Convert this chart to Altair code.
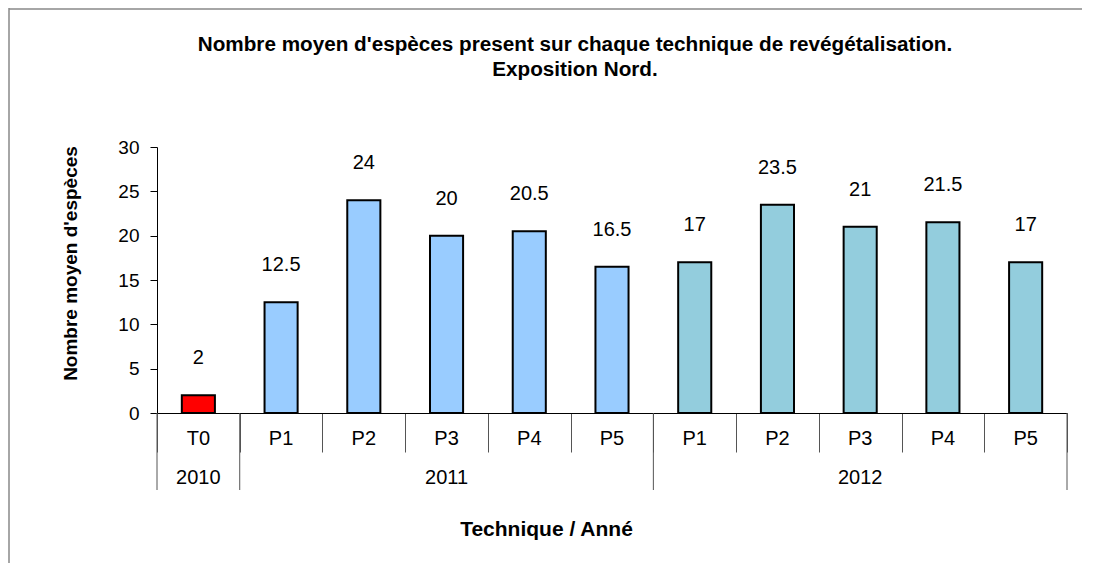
import altair as alt
import pandas as pd

categories = ["T0", "P1", "P2", "P3", "P4", "P5", "P1", "P2", "P3", "P4", "P5"]
years = ["2010", "2011", "2011", "2011", "2011", "2011", "2012", "2012", "2012", "2012", "2012"]
values = [2, 12.5, 24, 20, 20.5, 16.5, 17, 23.5, 21, 21.5, 17]
colors = ["#FF0000"] + ["#99CCFF"] * 5 + ["#93CDDD"] * 5

year_labels = ["2010", "2011", "2012"]
year_start = [0, 1, 6]
year_end = [1, 6, 11]

title_lines = ["Nombre moyen d'espèces present sur chaque technique de revégétalisation.",
               "Exposition Nord."]

df = pd.DataFrame({
    "idx": list(range(len(categories))),
    "cat": categories,
    "year": years,
    "value": values,
    "color": colors,
})
df["x0"] = df["idx"] + 0.3
df["x1"] = df["idx"] + 0.7
df["xc"] = df["idx"] + 0.5
df["label"] = [("%g" % v) for v in values]

ydf = pd.DataFrame({"year": year_labels, "s": year_start, "e": year_end})
ydf["c"] = (ydf["s"] + ydf["e"]) / 2
bdf = pd.DataFrame({"b": sorted(set(year_start + year_end))})
tdf = pd.DataFrame({"t": title_lines, "py": [-102, -77]})

FONT = "Liberation Sans"
LFS = 20
N = len(categories)
H = 266
xscale = alt.Scale(domain=[0, N], nice=False, zero=False)
yscale = alt.Scale(domain=[0, 30], nice=False)

base = alt.Chart(df)

bars = base.mark_bar(stroke="black", strokeWidth=2).encode(
    x=alt.X("x0:Q", scale=xscale,
            axis=alt.Axis(values=list(range(N + 1)), labels=False, tickSize=39,
                          tickColor="#555555", domainColor="black", grid=False,
                          title="Technique / Anné", titleX=389, titleY=116,
                          titleBaseline="middle", titleAlign="center",
                          titleFont=FONT, titleFontSize=21, titleFontWeight="bold",
                          titleColor="black")),
    x2="x1:Q",
    y=alt.Y("value:Q", scale=yscale,
            axis=alt.Axis(values=[0, 5, 10, 15, 20, 25, 30], tickSize=7, grid=False,
                          domainColor="black", tickColor="black",
                          labelFont=FONT, labelFontSize=19, labelColor="black",
                          labelPadding=11,
                          title="Nombre moyen d'espèces", titleX=-87, titleY=116,
                          titleAngle=270, titleBaseline="middle", titleAlign="center",
                          titleFont=FONT, titleFontSize=19, titleFontWeight="bold",
                          titleColor="black")),
    y2=alt.datum(0),
    color=alt.Color("color:N", scale=None),
)

vlabels = base.mark_text(font=FONT, fontSize=LFS, baseline="middle", dy=-37, color="black").encode(
    x=alt.X("xc:Q", scale=xscale),
    y=alt.Y("value:Q", scale=yscale),
    text="label:N",
)

clabels = base.mark_text(font=FONT, fontSize=LFS, baseline="middle", color="black").encode(
    x=alt.X("xc:Q", scale=xscale),
    y=alt.value(H + 26),
    text="cat:N",
)

ylabels = alt.Chart(ydf).mark_text(font=FONT, fontSize=LFS, baseline="middle", color="black").encode(
    x=alt.X("c:Q", scale=xscale),
    y=alt.value(H + 65),
    text="year:N",
)

bounds = alt.Chart(bdf).mark_rule(color="#555555", strokeWidth=1).encode(
    x=alt.X("b:Q", scale=xscale),
    y=alt.value(H),
    y2=alt.value(H + 77),
)

titles = alt.Chart(tdf).mark_text(font=FONT, fontSize=20.7, fontWeight="bold",
                                  baseline="middle", align="center", color="black").encode(
    x=alt.value(418),
    y=alt.Y("py:Q", scale=None),
    text="t:N",
)

frame_left = alt.Chart(bdf.head(1)).mark_rule(color="#888888", strokeWidth=1.5).encode(
    x=alt.value(-148), y=alt.value(-139), y2=alt.value(430),
)
frame_top = alt.Chart(bdf.head(1)).mark_rule(color="#888888", strokeWidth=1.5).encode(
    x=alt.value(-148), x2=alt.value(925), y=alt.value(-138),
)

chart = alt.layer(frame_left, frame_top, bars, vlabels, clabels, ylabels, bounds, titles).properties(
    width=910,
    height=H,
    autosize=alt.AutoSizeParams(type="none"),
    padding={"left": 149, "top": 139, "right": 15, "bottom": 150},
).configure(background="white", view=alt.ViewConfig(stroke="transparent"))

chart.save("out.html", embed_options={"renderer": "svg", "actions": False})
